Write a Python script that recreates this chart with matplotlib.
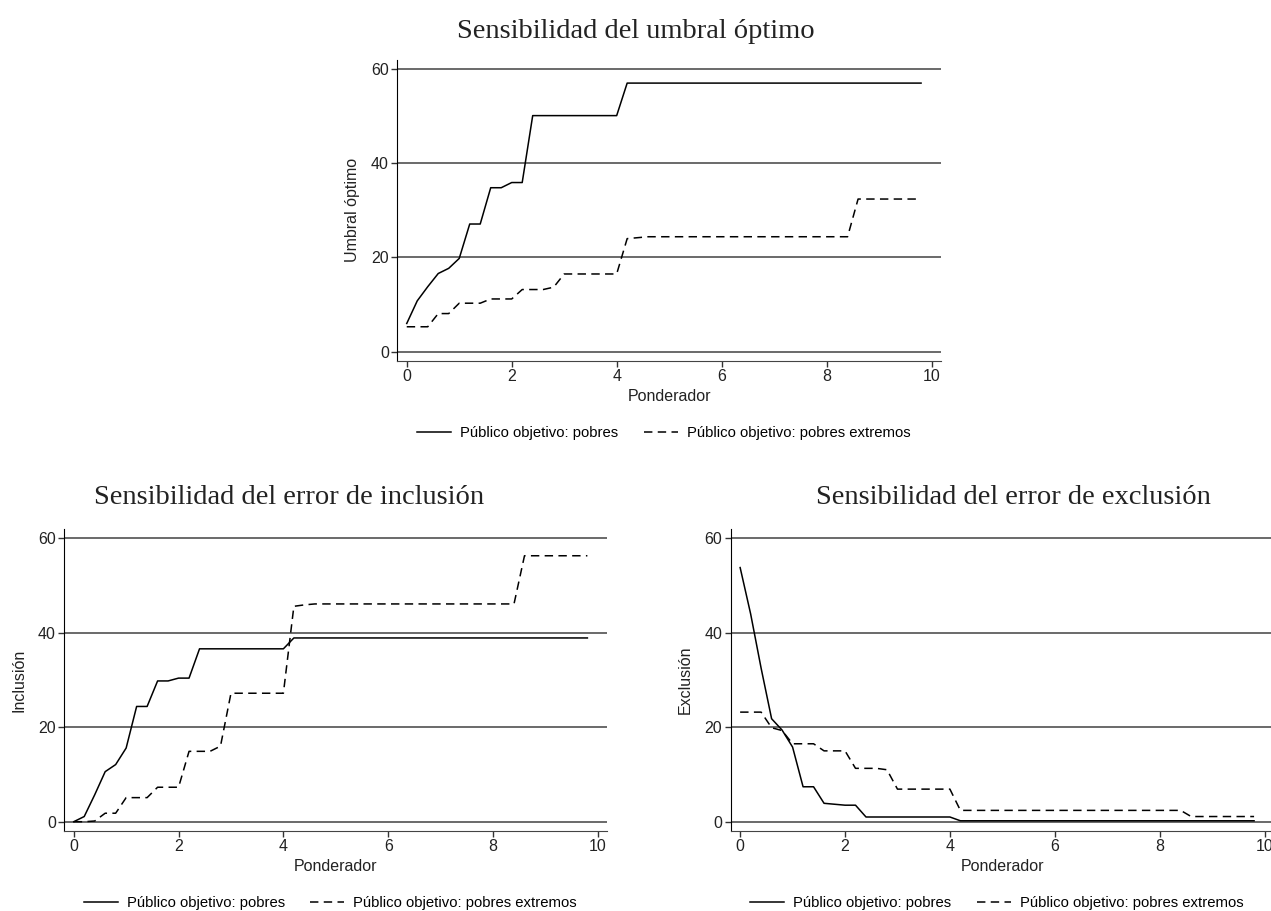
import numpy as np
from matplotlib import pyplot as plt

ponderador = [0.0, 0.2, 0.4, 0.6, 0.8, 1.0, 1.2, 1.4, 1.6, 1.8,
              2.0, 2.2, 2.4, 2.6, 2.8, 3.0, 3.2, 3.4, 3.6, 3.8,
              4.0, 4.2, 4.4, 4.6, 4.8, 5.0, 5.2, 5.4, 5.6, 5.8,
              6.0, 6.2, 6.4, 6.6, 6.8, 7.0, 7.2, 7.4, 7.6, 7.8,
              8.0, 8.2, 8.4, 8.6, 8.8, 9.0, 9.2, 9.4, 9.6, 9.8]

umbralPobres = [6.0, 10.8, 13.8, 16.6, 17.7, 19.8, 27.1, 27.1, 34.8, 34.8,
                35.9, 35.9] + [50.1] * 9 + [57.0] * 29
umbralExtremos = [5.3, 5.3, 5.3, 8.1, 8.1, 10.3, 10.3, 10.3, 11.2, 11.2,
                  11.2, 13.2, 13.2, 13.2, 13.7] + [16.5] * 6 + [24.0, 24.2] \
                 + [24.4] * 20 + [32.4] * 7

inclusionPobres = [0.0, 1.1, 5.7, 10.6, 12.1, 15.6, 24.4, 24.4, 29.8, 29.8,
                   30.4, 30.4] + [36.6] * 9 + [38.9] * 29
inclusionExtremos = [0.0, 0.0, 0.15, 1.8, 1.8, 5.1, 5.1, 5.1, 7.3, 7.3,
                     7.3, 14.9, 14.9, 14.9, 16.0] + [27.2] * 6 + [45.6, 45.9] \
                    + [46.1] * 20 + [56.3] * 7

exclusionPobres = [53.8, 44.0, 32.5, 21.8, 19.4, 15.8, 7.4, 7.4, 3.9, 3.7,
                   3.5, 3.5] + [1.0] * 9 + [0.2] * 29
exclusionExtremos = [23.2, 23.2, 23.2, 19.9, 19.3, 16.5, 16.5, 16.5, 15.0, 15.0,
                     15.0, 11.3, 11.3, 11.3, 11.0] + [6.9] * 6 + [2.4] * 22 \
                    + [1.1] * 7

labelPobres = 'Público objetivo: pobres'
labelExtremos = 'Público objetivo: pobres extremos'
yTicks = [0, 20, 40, 60]
xTicks = [0, 2, 4, 6, 8, 10]

plt.rcParams['font.family'] = ['Liberation Sans', 'DejaVu Sans']

W, H = 1271.0, 911.0

def axesBox(left, top, right, bottom):
  return [left / W, 1 - bottom / H, (right - left) / W, (bottom - top) / H]

def panel(fig, box, yPobres, yExtremos, ylabel):
  ax = fig.add_axes(box)
  ax.plot(ponderador, yPobres, color='black', lw=1.1, label=labelPobres)
  ax.plot(ponderador, yExtremos, color='black', lw=1.1, ls=(0, (5.5, 3.5)),
      label=labelExtremos)
  for y in yTicks:
    ax.axhline(y, color='#505050', lw=1.2, zorder=0)
  ax.set_xlim(-0.18, 10.18)
  ax.set_ylim(-1.9, 61.9)
  ax.set_xticks(xTicks)
  ax.set_yticks(yTicks)
  ax.tick_params(labelsize=11.5, length=4, width=1, color='#333333',
      labelcolor='#222222', pad=2)
  ax.spines['top'].set_visible(False)
  ax.spines['right'].set_visible(False)
  ax.spines['left'].set_color('black')
  ax.spines['bottom'].set_color('#444444')
  ax.set_ylabel(ylabel, fontsize=11.5, color='#222222')
  ax.yaxis.set_label_coords(-0.069, 0.5)
  ax.set_xlabel('Ponderador', fontsize=11.5, color='#222222')
  ax.xaxis.set_label_coords(0.5, -0.12)
  ax.xaxis.label.set_va('center')
  ax.legend(loc='center', bbox_to_anchor=(0.49, -0.24), ncol=2, frameon=False,
      fontsize=10.7, handlelength=2.3, handletextpad=0.6, columnspacing=1.7)
  return ax

fig = plt.figure(figsize=(12.71, 9.11), dpi=100)

panel(fig, axesBox(397.3, 60, 941, 360.7), umbralPobres, umbralExtremos,
    'Umbral óptimo')
panel(fig, axesBox(64.3, 529.3, 607.3, 830.7), inclusionPobres,
    inclusionExtremos, 'Inclusión')
panel(fig, axesBox(730.7, 529.3, 1274, 830.7), exclusionPobres,
    exclusionExtremos, 'Exclusión')

titleFont = dict(fontsize=20.5, family='Liberation Serif', color='#222222',
    ha='center', va='center')
fig.text(636 / W, 1 - 31 / H, 'Sensibilidad del umbral óptimo', **titleFont)
fig.text(289 / W, 1 - 498 / H, 'Sensibilidad del error de inclusión', **titleFont)
fig.text(1013 / W, 1 - 498 / H, 'Sensibilidad del error de exclusión', **titleFont)

plt.savefig('out.png', dpi=100)
